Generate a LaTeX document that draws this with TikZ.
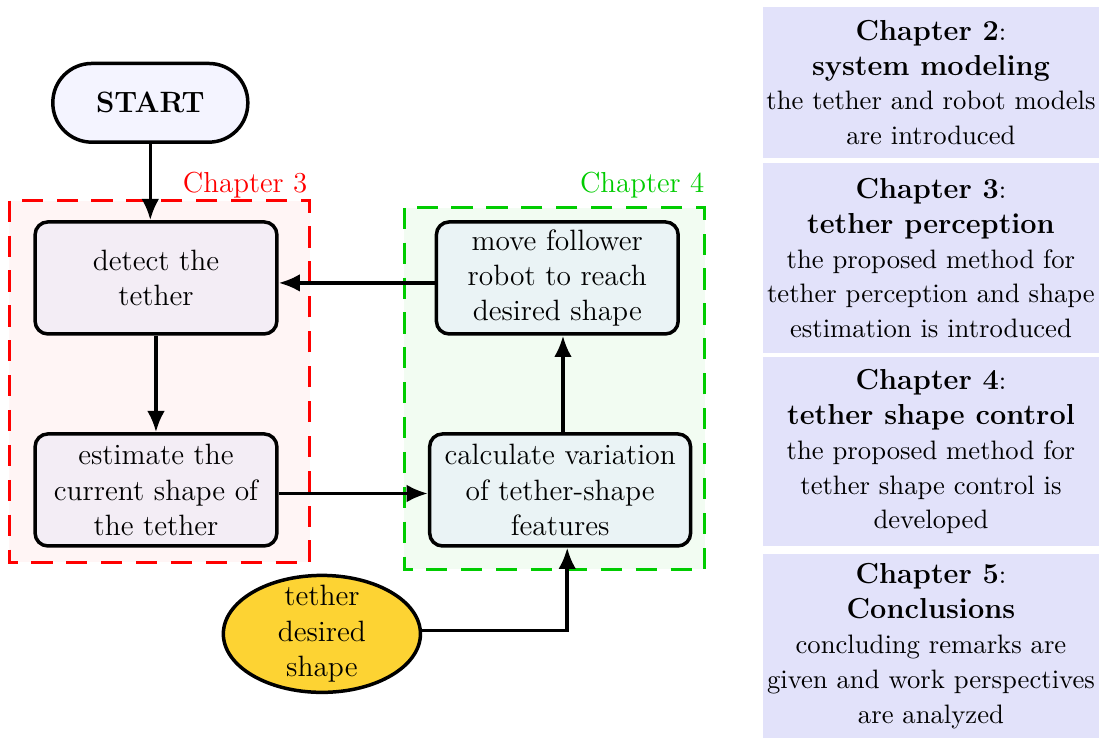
\documentclass[tikz,border=0pt]{standalone}
\usetikzlibrary{arrows.meta,shapes.geometric}

\definecolor{startfill}{RGB}{244,244,255}
\definecolor{percfill}{RGB}{243,237,245}
\definecolor{ctrlfill}{RGB}{234,243,245}
\definecolor{chapfill}{RGB}{226,226,250}
\definecolor{goldfill}{RGB}{253,211,51}
\definecolor{chapgreen}{RGB}{0,204,0}

\newcommand{\chaphead}[1]{{\fontsize{11.6}{14.2}\selectfont\bfseries #1}}

\tikzset{
    flowarrow/.style={line width=1.4pt, -{Latex[length=3mm,width=2.5mm]}},
    procbox/.style={draw, line width=1.4pt, rounded corners=0.18cm, align=center,
        minimum width=3.41cm, minimum height=1.58cm, inner sep=2pt,
        font=\fontsize{11.8}{14.2}\selectfont},
    percbox/.style={procbox, fill=percfill},
    ctrlbox/.style={procbox, fill=ctrlfill},
    chapbox/.style={fill=chapfill, align=center, minimum width=4.74cm, inner sep=0pt,
        font=\fontsize{10.7}{14}\selectfont},
    chaplabel/.style={anchor=south east, inner sep=0pt, font=\fontsize{11.6}{14.2}\selectfont},
    chapframe/.style={line width=1.1pt, dash pattern=on 8.5pt off 5.5pt}
}

\begin{document}
\begin{tikzpicture}
    \useasboundingbox (0,0) rectangle (15.5,-10.41);

    % Chapter regions
    \draw[chapframe, red, fill=red!4] (0.13,-2.83) rectangle (4.37,-7.93);
    \draw[chapframe, chapgreen, fill=chapgreen!5] (5.70,-2.93) rectangle (9.94,-8.03);
    \node[chaplabel, text=red] (ch3label) at (4.34,-2.80) {Chapter 3};
    \node[chaplabel, text=chapgreen] (ch4label) at (9.94,-2.80) {Chapter 4};

    % Flow
    \node[draw, line width=1.4pt, fill=startfill, rounded corners=0.55cm, minimum width=2.75cm,
        minimum height=1.11cm, font=\fontsize{11.8}{14}\selectfont\bfseries] (start) at (2.12,-1.45) {START};
    \node[percbox] (detect) at (2.20,-3.92) {detect the\\tether};
    \node[percbox] (estimate) at (2.20,-6.91) {estimate the\\current shape of\\the tether};
    \node[ctrlbox] (move) at (7.86,-3.92) {move follower\\robot to reach\\desired shape};
    \node[ctrlbox, minimum width=3.68cm] (calculate) at (7.90,-6.91) {calculate variation\\of tether-shape\\features};
    \node[draw, line width=1.4pt, ellipse, fill=goldfill, align=center, minimum width=2.78cm,
        minimum height=1.64cm, inner sep=0pt, inner ysep=-0.1cm,
        font=\fontsize{11.8}{14.2}\selectfont] (desired) at (4.54,-8.94) {tether\\desired\\shape};

    % Connectors
    \draw[flowarrow] (start.south) -- (start.south |- detect.north);
    \draw[flowarrow] (detect) -- (estimate);
    \draw[flowarrow] ([yshift=-0.07cm]move.west) -- ([yshift=-0.07cm]detect.east);
    \draw[flowarrow] ([yshift=-0.05cm]estimate.east) -- ([yshift=-0.05cm]calculate.west);
    \draw[flowarrow] ([xshift=0.04cm]calculate.north) -- ([xshift=0.04cm]calculate.north |- move.south);
    \draw[flowarrow] ([yshift=0.05cm]desired.east) -| ([xshift=0.1cm]calculate.south);

    % Chapter overview
    \node[chapbox, minimum height=2.13cm] (ch2) at (13.13,-1.165)
        {\chaphead{Chapter 2}:\\\chaphead{system modeling}\\the tether and robot models\\are introduced};
    \node[chapbox, minimum height=2.68cm] (ch3) at (13.13,-3.64)
        {\chaphead{Chapter 3}:\\\chaphead{tether perception}\\the proposed method for\\tether perception and shape\\estimation is introduced};
    \node[chapbox, minimum height=2.66cm] (ch4) at (13.13,-6.37)
        {\chaphead{Chapter 4}:\\\chaphead{tether shape control}\\the proposed method for\\tether shape control is\\developed};
    \node[chapbox, minimum height=2.60cm] (ch5) at (13.13,-9.11)
        {\chaphead{Chapter 5}:\\\chaphead{Conclusions}\\concluding remarks are\\given and work perspectives\\are analyzed};
\end{tikzpicture}
\end{document}
